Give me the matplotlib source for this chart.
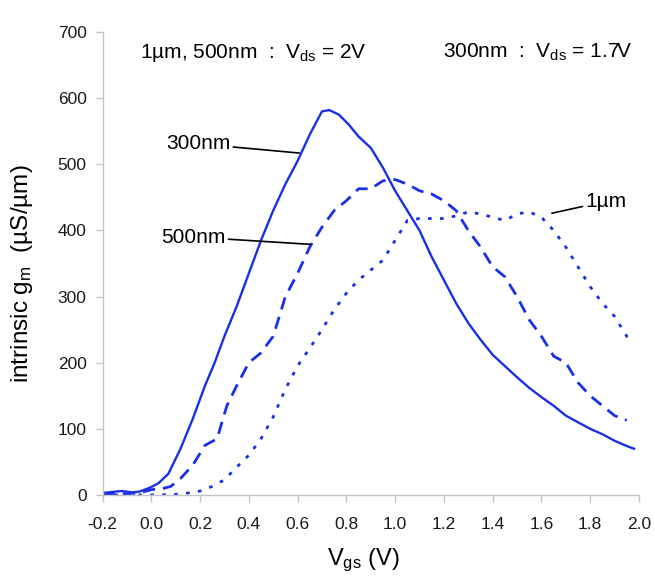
import matplotlib
matplotlib.use("Agg")
import matplotlib.pyplot as plt

plt.rcParams['font.family'] = ['Liberation Sans', 'DejaVu Sans']
plt.rcParams['mathtext.fontset'] = 'custom'
plt.rcParams['mathtext.rm'] = 'Liberation Sans'
plt.rcParams['mathtext.it'] = 'Liberation Sans'

# gm vs Vgs, 300 nm device (Vds = 1.7 V)
vgs_300 = [-0.2, -0.15, -0.12, -0.08, -0.05, -0.02, 0.0, 0.03, 0.07, 0.12, 0.17, 0.22, 0.26, 0.3,
           0.35, 0.4, 0.45, 0.5, 0.55, 0.6, 0.65, 0.7, 0.73, 0.77, 0.81, 0.85, 0.9, 0.95, 1.0,
           1.05, 1.1, 1.15, 1.2, 1.25, 1.3, 1.35, 1.4, 1.45, 1.5, 1.55, 1.6, 1.65, 1.7, 1.75,
           1.8, 1.85, 1.9, 1.95, 1.98]
gm_300 = [3, 5, 6, 4, 5, 9, 12, 18, 32, 70, 115, 165, 200, 240,
          285, 335, 385, 430, 470, 505, 545, 580, 582, 575, 560, 542, 525, 495, 460,
          430, 400, 360, 325, 290, 260, 235, 212, 195, 178, 162, 148, 135, 120, 110,
          100, 92, 82, 74, 70]

# 500 nm device (Vds = 2 V)
vgs_500 = [-0.2, -0.1, -0.05, 0.0, 0.05, 0.08, 0.12, 0.17, 0.22, 0.27, 0.31, 0.35, 0.4, 0.45,
           0.5, 0.55, 0.6, 0.65, 0.7, 0.75, 0.8, 0.85, 0.9, 0.95, 1.0, 1.05, 1.1, 1.15, 1.2,
           1.25, 1.3, 1.35, 1.4, 1.45, 1.5, 1.55, 1.6, 1.65, 1.7, 1.75, 1.8, 1.85, 1.9, 1.95]
gm_500 = [2, 2, 3, 8, 10, 13, 25, 45, 75, 85, 135, 165, 200, 215,
          240, 300, 335, 375, 405, 430, 445, 463, 463, 475, 477, 470, 460, 455, 445,
          430, 400, 375, 345, 330, 300, 265, 240, 210, 200, 170, 150, 135, 120, 113]

# 1 um device (Vds = 2 V)
vgs_1u = [-0.2, 0.0, 0.1, 0.15, 0.2, 0.25, 0.3, 0.35, 0.4, 0.45, 0.5, 0.55, 0.6, 0.65, 0.7,
          0.75, 0.8, 0.85, 0.9, 0.95, 1.0, 1.05, 1.1, 1.15, 1.2, 1.25, 1.3, 1.35, 1.4, 1.45,
          1.5, 1.55, 1.6, 1.65, 1.7, 1.75, 1.8, 1.85, 1.9, 1.95, 1.98]
gm_1u = [0, 0, 1, 3, 6, 13, 23, 42, 60, 85, 118, 160, 195, 222, 250,
         280, 305, 325, 340, 355, 385, 415, 418, 418, 418, 422, 428, 425, 420, 415,
         425, 428, 420, 400, 375, 345, 315, 290, 270, 240, 232]

xticks = [-0.2, 0.0, 0.2, 0.4, 0.6, 0.8, 1.0, 1.2, 1.4, 1.6, 1.8, 2.0]
yticks = [0, 100, 200, 300, 400, 500, 600, 700]

blue = '#1a30e6'
grey = '#c4c4c4'

fig = plt.figure(figsize=(6.55, 5.78), dpi=100)
ax = fig.add_axes([0.1565, 0.1436, 0.819, 0.801])

ax.plot(vgs_300, gm_300, '-', color=blue, lw=1.7)
ax.plot(vgs_500, gm_500, color=blue, lw=2.0, dashes=(4.5, 2.8))
ax.plot(vgs_1u, gm_1u, color=blue, lw=2.0, dashes=(1.3, 3.0))

ax.set_xlim(-0.2, 2.0)
ax.set_ylim(0, 700)
ax.set_xticks(xticks)
ax.set_xticklabels([f'{t:.1f}' for t in xticks])
ax.set_yticks(yticks)
for s in ['top', 'right']:
    ax.spines[s].set_visible(False)
for s in ['left', 'bottom']:
    ax.spines[s].set_color(grey)
    ax.spines[s].set_linewidth(1.0)
ax.tick_params(axis='both', colors=grey, labelcolor='#1a1a1a', labelsize=12.5,
               length=5, width=1.0)
ax.tick_params(axis='x', pad=10.5)
ax.tick_params(axis='y', pad=6.5)

ax.set_xlabel(r'V$_{\mathrm{gs}}$ (V)', fontsize=17)
ax.set_ylabel(r'intrinsic g$_{\mathrm{m}}$  (µS/µm)', fontsize=17.5)
ax.xaxis.set_label_coords(0.486, -0.112)
ax.yaxis.set_label_coords(-0.125, 0.477)

ax.text(0.42, 661, r'1µm, 500nm  :  V$_{\mathrm{ds}}$ = 2V', fontsize=15,
        ha='center', va='baseline')
ax.text(1.584, 661, r'300nm  :  V$_{\mathrm{ds}}$ = 1.7V', fontsize=15,
        ha='center', va='baseline')

# curve labels with leader lines
ax.annotate('300nm', xy=(0.607, 517), xytext=(0.325, 531), fontsize=15,
            ha='right', va='center',
            arrowprops=dict(arrowstyle='-', color='black', lw=1.2, shrinkA=0, shrinkB=0))
ax.annotate('500nm', xy=(0.652, 379), xytext=(0.305, 390), fontsize=15,
            ha='right', va='center',
            arrowprops=dict(arrowstyle='-', color='black', lw=1.2, shrinkA=0, shrinkB=0))
ax.annotate('1µm', xy=(1.643, 426), xytext=(1.78, 444), fontsize=15,
            ha='left', va='center',
            arrowprops=dict(arrowstyle='-', color='black', lw=1.2, shrinkA=0, shrinkB=0))

fig.savefig('out.png', dpi=100, facecolor='white')
